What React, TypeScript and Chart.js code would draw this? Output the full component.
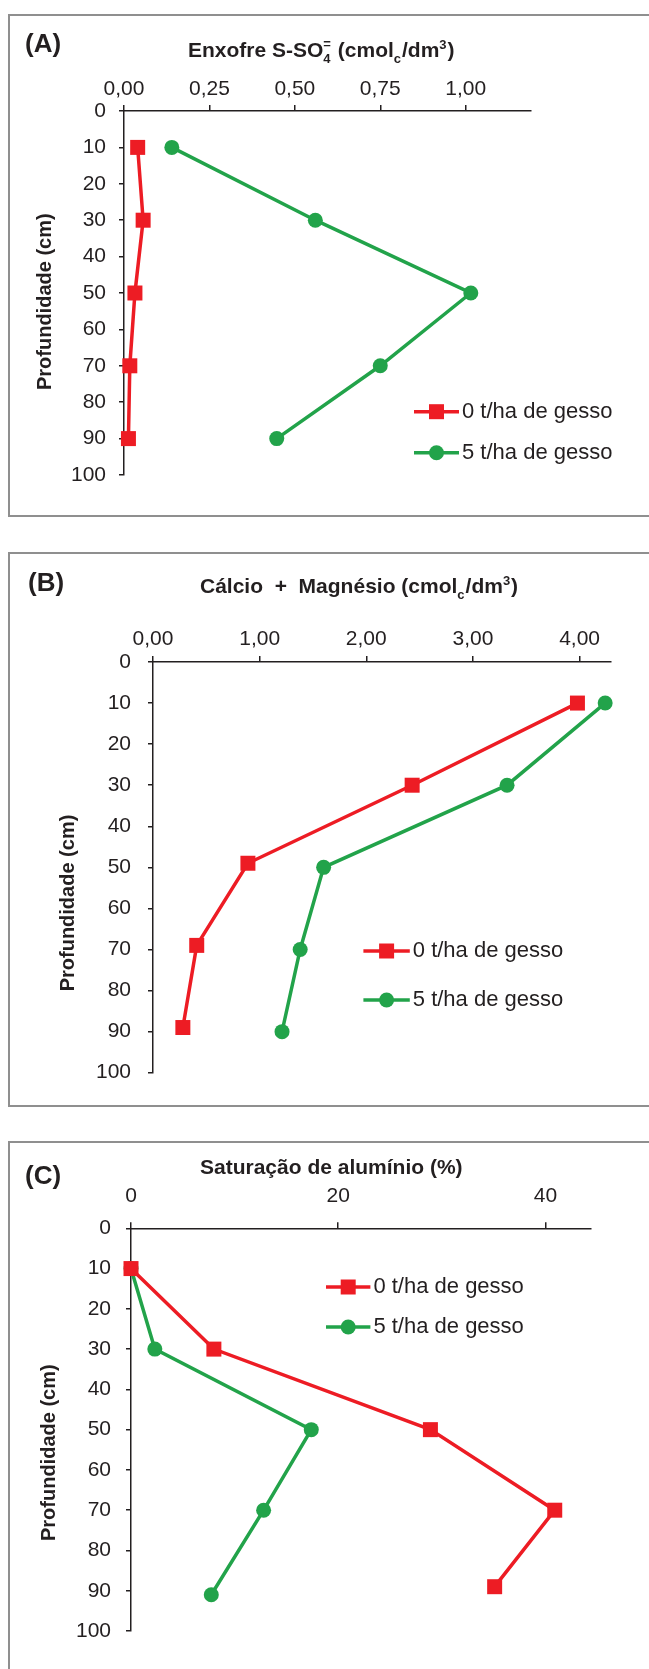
import React, { useEffect, useRef } from "react";
import { Chart, registerables } from "chart.js";
Chart.register(...registerables);

// ---------- data ----------
const seriesLabels = ["0 t/ha de gesso", "5 t/ha de gesso"];
const depthTicks = [0, 10, 20, 30, 40, 50, 60, 70, 80, 90, 100];

// (A) Enxofre S-SO4
const depthA0 = [10, 30, 50, 70, 90];
const sulfur0 = [0.04, 0.056, 0.032, 0.017, 0.013];
const depthA5 = [10, 30, 50, 70, 90];
const sulfur5 = [0.14, 0.56, 1.015, 0.75, 0.447];
const ticksA = [0, 0.25, 0.5, 0.75, 1.0];

// (B) Cálcio + Magnésio
const depthB0 = [10, 30, 49, 69, 89];
const caMg0 = [3.98, 2.43, 0.89, 0.41, 0.28];
const depthB5 = [10, 30, 50, 70, 90];
const caMg5 = [4.24, 3.32, 1.6, 1.38, 1.21];
const ticksB = [0, 1, 2, 3, 4];

// (C) Saturação de alumínio
const depthC0 = [10, 30, 50, 70, 89];
const alSat0 = [0, 8.0, 28.9, 40.9, 35.1];
const depthC5 = [10, 30, 50, 70, 91];
const alSat5 = [0, 2.3, 17.4, 12.8, 7.75];
const ticksC = [0, 20, 40];

// ---------- styles ----------
const FF = "'Liberation Sans', Arial, Helvetica, sans-serif";
const INK = "#231f20";
const RED = "#ed1c24";
const GREEN = "#22a34a";
const W = 649;

type Part = [string, string, string?];

function drawRich(ctx: CanvasRenderingContext2D, parts: Part[], x: number, y: number, size: number) {
  let cx = x;
  ctx.textAlign = "left";
  ctx.textBaseline = "alphabetic";
  for (const [t, kind, extra] of parts) {
    if (kind === "n") {
      ctx.font = `bold ${size}px ${FF}`;
      ctx.fillText(t, cx, y);
      cx += ctx.measureText(t).width;
    } else {
      const s = Math.round(size * 0.6);
      ctx.font = `bold ${s}px ${FF}`;
      let w = 0;
      if (kind === "sub") {
        ctx.fillText(t, cx, y + size * 0.3);
        w = ctx.measureText(t).width;
        if (extra) {
          ctx.fillText(extra, cx, y - size * 0.42);
          w = Math.max(w, ctx.measureText(extra).width);
        }
      } else {
        ctx.fillText(t, cx, y - size * 0.4);
        w = ctx.measureText(t).width;
      }
      cx += w + 1;
    }
  }
}

const decoPlugin = {
  id: "deco",
  afterDraw(chart: any) {
    const o = chart.options.plugins.deco;
    if (!o) return;
    const ctx: CanvasRenderingContext2D = chart.ctx;
    ctx.save();
    ctx.fillStyle = INK;
    // panel letter
    ctx.font = `bold 26px ${FF}`;
    ctx.textAlign = "left";
    ctx.textBaseline = "middle";
    ctx.fillText(o.letter, o.letterX, o.letterY);
    // title
    drawRich(ctx, o.title, o.titleX, o.titleY, 21);
    // y title
    ctx.save();
    ctx.translate(o.yTitleX, o.yTitleY);
    ctx.rotate(-Math.PI / 2);
    ctx.font = `bold 20px ${FF}`;
    ctx.textAlign = "center";
    ctx.textBaseline = "middle";
    ctx.fillText("Profundidade (cm)", 0, 0);
    ctx.restore();
    // legend
    const ds = chart.data.datasets;
    o.legendY.forEach((ly: number, i: number) => {
      const d = ds[i];
      ctx.strokeStyle = d.borderColor;
      ctx.lineWidth = 3.5;
      ctx.beginPath();
      ctx.moveTo(o.legendX0, ly);
      ctx.lineTo(o.legendX1, ly);
      ctx.stroke();
      const mx = (o.legendX0 + o.legendX1) / 2;
      ctx.fillStyle = d.pointBackgroundColor;
      if (d.pointStyle === "rect") {
        const h = d.pointRadius * Math.SQRT1_2;
        ctx.fillRect(mx - h, ly - h, 2 * h, 2 * h);
      } else {
        ctx.beginPath();
        ctx.arc(mx, ly, d.pointRadius, 0, Math.PI * 2);
        ctx.fill();
      }
      ctx.fillStyle = INK;
      ctx.font = `22px ${FF}`;
      ctx.textAlign = "left";
      ctx.textBaseline = "middle";
      ctx.fillText(d.label, o.legendX1 + 3, ly);
    });
    ctx.restore();
  },
};

function pts(xs: number[], ys: number[]) {
  return xs.map((x, i) => ({ x, y: ys[i] }));
}

function makeConfig(spec: any): any {
  const area = spec.area; // left, top, right, bottom in canvas coords
  return {
    type: "scatter",
    data: {
      datasets: [
        {
          label: seriesLabels[0],
          data: pts(spec.x0, spec.y0),
          showLine: true,
          borderColor: RED,
          backgroundColor: RED,
          pointBackgroundColor: RED,
          pointBorderColor: RED,
          pointBorderWidth: 0,
          pointStyle: "rect",
          pointRadius: 10.6,
          borderWidth: 3.5,
          tension: 0,
          clip: false,
        },
        {
          label: seriesLabels[1],
          data: pts(spec.x5, spec.y5),
          showLine: true,
          borderColor: GREEN,
          backgroundColor: GREEN,
          pointBackgroundColor: GREEN,
          pointBorderColor: GREEN,
          pointBorderWidth: 0,
          pointStyle: "circle",
          pointRadius: 7.5,
          borderWidth: 3.5,
          tension: 0,
          clip: false,
        },
      ],
    },
    options: {
      responsive: false,
      animation: false,
      devicePixelRatio: 1,
      layout: {
        autoPadding: false,
        padding: { left: 0, top: 0, right: W - area.right, bottom: spec.height - area.bottom },
      },
      plugins: {
        legend: { display: false },
        tooltip: { enabled: false },
        deco: spec.deco,
      },
      scales: {
        x: {
          type: "linear",
          position: "top",
          min: 0,
          max: spec.xMax,
          afterFit: (s: any) => { s.height = area.top; },
          afterBuildTicks: (s: any) => { s.ticks = spec.xTicks.map((v: number) => ({ value: v })); },
          ticks: {
            includeBounds: false,
            color: INK,
            font: { family: FF, size: 21 },
            padding: spec.xPad,
            maxRotation: 0,
            callback: spec.fmt,
          },
          grid: { display: true, drawOnChartArea: false, drawTicks: true, tickLength: 6, color: INK, lineWidth: 1.5 },
          border: { display: true, color: INK, width: 1.5 },
        },
        y: {
          type: "linear",
          position: "left",
          reverse: true,
          min: 0,
          max: 100,
          afterFit: (s: any) => { s.width = area.left; },
          afterBuildTicks: (s: any) => { s.ticks = depthTicks.map((v) => ({ value: v })); },
          ticks: {
            color: INK,
            font: { family: FF, size: 21 },
            padding: spec.yPad,
            callback: (v: number) => String(v),
          },
          grid: { display: true, drawOnChartArea: false, drawTicks: true, tickLength: 5, color: INK, lineWidth: 1.5 },
          border: { display: true, color: INK, width: 1.5 },
        },
      },
    },
    plugins: [decoPlugin],
  };
}

const comma2 = (v: number) => v.toFixed(2).replace(".", ",");

const titleA: Part[] = [["Enxofre S-SO", "n"], ["4", "sub", "="], [" (cmol", "n"], ["c", "sub"], ["/dm", "n"], ["3", "sup"], [")", "n"]];
const titleB: Part[] = [["Cálcio  +  Magnésio (cmol", "n"], ["c", "sub"], ["/dm", "n"], ["3", "sup"], [")", "n"]];
const titleC: Part[] = [["Saturação de alumínio (%)", "n"]];

const panels = [
  {
    top: 0,
    height: 530,
    xMax: 1.19,
    xTicks: ticksA,
    fmt: comma2,
    xPad: 3,
    yPad: 13,
    x0: sulfur0, y0: depthA0, x5: sulfur5, y5: depthA5,
    area: { left: 124, top: 111, right: 530.6, bottom: 475 },
    deco: {
      letter: "(A)", letterX: 25, letterY: 45,
      title: titleA, titleX: 188, titleY: 57,
      yTitleX: 45.5, yTitleY: 301.7,
      legendX0: 414, legendX1: 459, legendY: [411.7, 452.7],
    },
  },
  {
    top: 535,
    height: 580,
    xMax: 4.29,
    xTicks: ticksB,
    fmt: comma2,
    xPad: 4,
    yPad: 17,
    x0: caMg0, y0: depthB0, x5: caMg5, y5: depthB5,
    area: { left: 153, top: 127, right: 610.5, bottom: 537.7 },
    deco: {
      letter: "(B)", letterX: 28, letterY: 49,
      title: titleB, titleX: 200, titleY: 58,
      yTitleX: 68.3, yTitleY: 368,
      legendX0: 363.4, legendX1: 409.8, legendY: [416, 465],
    },
  },
  {
    top: 1125,
    height: 544,
    xMax: 44.4,
    xTicks: ticksC,
    fmt: (v: number) => String(v),
    xPad: 13,
    yPad: 15,
    x0: alSat0, y0: depthC0, x5: alSat5, y5: depthC5,
    area: { left: 131, top: 103.3, right: 591, bottom: 506 },
    deco: {
      letter: "(C)", letterX: 25, letterY: 52,
      title: titleC, titleX: 200, titleY: 49,
      yTitleX: 49.7, yTitleY: 327.7,
      legendX0: 326, legendX1: 370.4, legendY: [162, 202],
    },
  },
];

function Panel({ spec }: { spec: any }) {
  const ref = useRef<HTMLCanvasElement>(null);
  useEffect(() => {
    const chart = new Chart(ref.current as HTMLCanvasElement, makeConfig(spec));
    return () => chart.destroy();
  }, [spec]);
  return (
    <canvas
      ref={ref}
      width={W}
      height={spec.height}
      style={{ position: "absolute", left: 0, top: spec.top, width: W, height: spec.height }}
    />
  );
}

const boxes = [
  { top: 14, height: 503 },
  { top: 552, height: 555 },
  { top: 1141, height: 600 },
];

export default function App() {
  return (
    <div
      style={{
        position: "absolute",
        left: 0,
        top: 0,
        width: W,
        height: 1669,
        overflow: "hidden",
        background: "#fff",
      }}
    >
      {boxes.map((b, i) => (
        <div
          key={i}
          style={{
            position: "absolute",
            left: 8,
            top: b.top,
            width: 700,
            height: b.height,
            border: "2px solid #8f8f8f",
            boxSizing: "border-box",
          }}
        />
      ))}
      {panels.map((p, i) => (
        <Panel key={i} spec={p} />
      ))}
    </div>
  );
}
